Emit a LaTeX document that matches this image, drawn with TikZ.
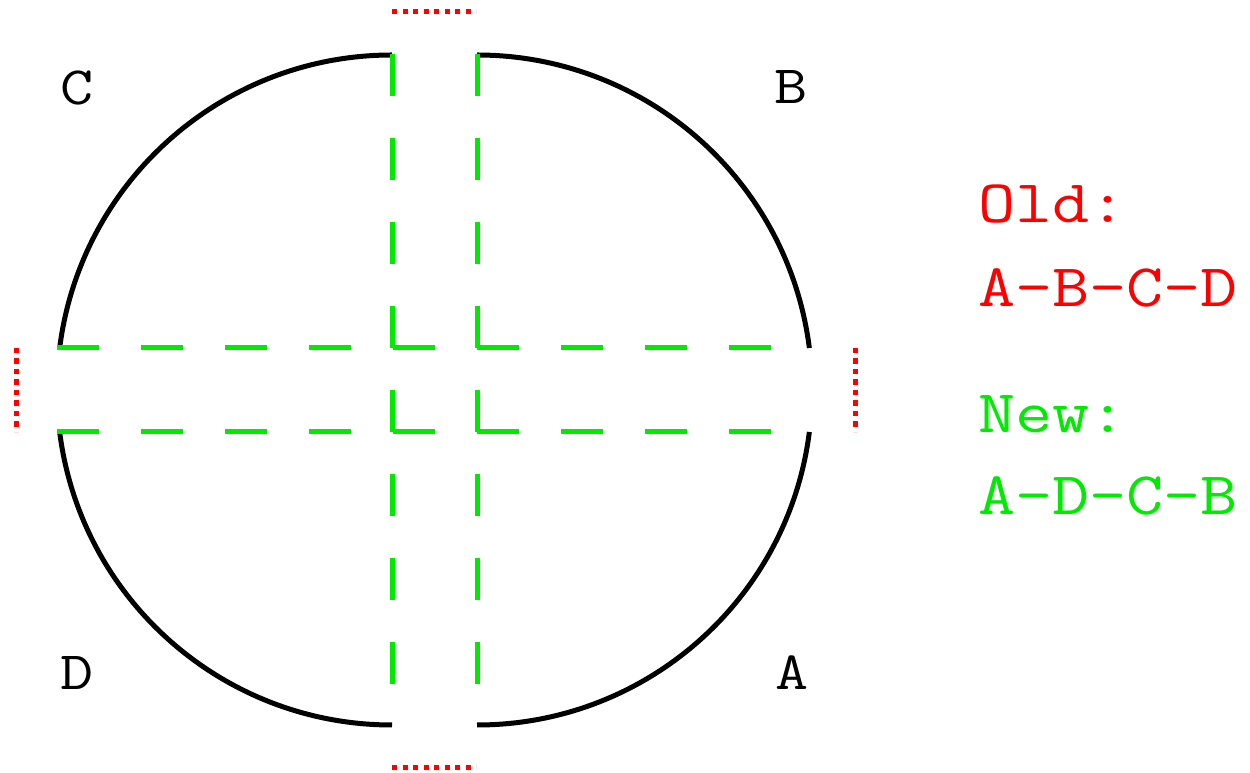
\documentclass[tikz,border=0pt]{standalone}
\usepackage{fontspec}
\usepackage{graphicx}
\definecolor{myred}{RGB}{255,0,0}
\definecolor{mygreen}{RGB}{0,235,0}
\newcommand{\mywide}[1]{\scalebox{1.19}[1]{#1}}
\tikzset{
  rim/.style={line width=5pt, black},
  band/.style={line width=5pt, mygreen, dash pattern=on 42pt off 42pt},
  edgedots/.style={line width=5pt, myred, dash pattern=on 5.25pt off 5.25pt},
  bigtxt/.style={inner sep=0pt, font=\fontsize{60.5pt}{60pt}\selectfont\ttfamily},
  lbl/.style={inner sep=0pt, font=\fontsize{54pt}{54pt}\selectfont\ttfamily}
}
\begin{document}
\begin{tikzpicture}[x=1pt,y=1pt]
\useasboundingbox (0,0) rectangle (1250,773);
% rim: two half circles, radius 335, centred on the band edges
\coordinate (lc) at (392,383);
\coordinate (rc) at (477,383);
\draw[rim] (lc) ++(90:335) arc[start angle=90, end angle=172.8, radius=335pt];
\draw[rim] (lc) ++(187.2:335) arc[start angle=187.2, end angle=270, radius=335pt];
\draw[rim] (rc) ++(-90:335) arc[start angle=-90, end angle=-7.2, radius=335pt];
\draw[rim] (rc) ++(7.2:335) arc[start angle=7.2, end angle=90, radius=335pt];
% green dashed bands
\coordinate (v1t) at (392,719); \coordinate (v1b) at (392,47);
\coordinate (v2t) at (477,719); \coordinate (v2b) at (477,47);
\coordinate (h1l) at (57,425); \coordinate (h1r) at (812,425);
\coordinate (h2l) at (57,341); \coordinate (h2r) at (812,341);
\draw[band] (v1t) -- (v1b);
\draw[band] (v2t) -- (v2b);
\draw[band] (h1l) -- (h1r);
\draw[band] (h2l) -- (h2r);
% red dotted gaps
\coordinate (tl) at (392,761); \coordinate (tr) at (476,761);
\coordinate (bl) at (392,5); \coordinate (br) at (476,5);
\coordinate (lt) at (16,425); \coordinate (lb) at (16,341);
\coordinate (rt) at (855,425); \coordinate (rb) at (855,341);
\draw[edgedots] (tl) -- (tr);
\draw[edgedots] (bl) -- (br);
\draw[edgedots] (lt) -- (lb);
\draw[edgedots] (rt) -- (rb);
% corner labels
\node[lbl] (C) at (77,685) {\mywide{C}};
\node[lbl] (B) at (791,686) {\mywide{B}};
\node[lbl] (D) at (77,100) {\mywide{D}};
\node[lbl] (A) at (792,100) {\mywide{A}};
% legend
\node[bigtxt, myred, anchor=base west] (old) at (978,550) {\mywide{Old:}};
\node[bigtxt, myred, anchor=base west] (oldseq) at (978,466) {\mywide{A-B-C-D}};
\node[bigtxt, mygreen, anchor=base west] (new) at (978,340) {\mywide{New:}};
\node[bigtxt, mygreen, anchor=base west] (newseq) at (978,258) {\mywide{A-D-C-B}};
\end{tikzpicture}
\end{document}
